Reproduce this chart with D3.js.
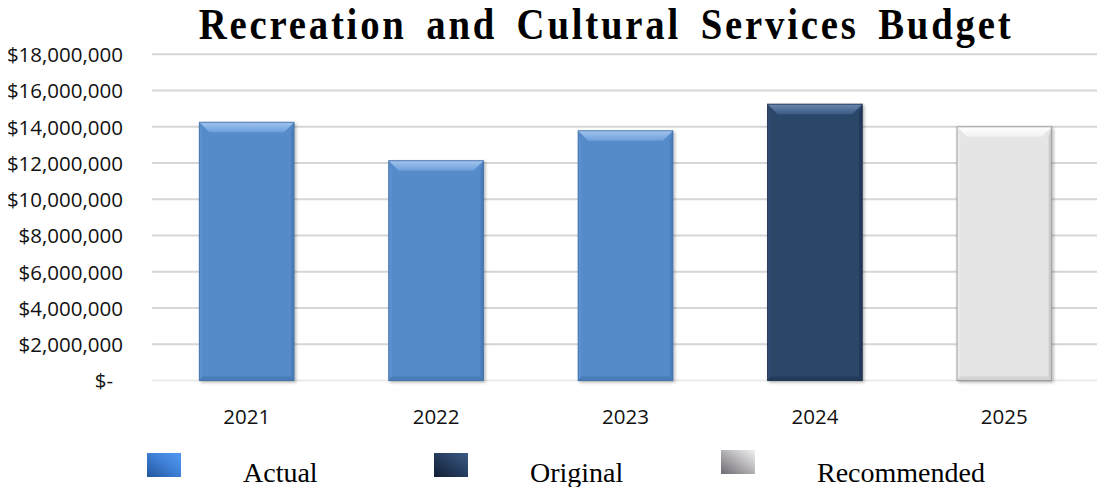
<!DOCTYPE html>
<html>
<head>
<meta charset="utf-8">
<script src="https://cdn.jsdelivr.net/npm/d3@7"></script>
<style>
  html, body { margin: 0; padding: 0; background: #fff; }
  svg { display: block; }
</style>
</head>
<body>
<svg id="chart" width="1097" height="487"></svg>
<script>
// Budget by fiscal year
const years = ["2021", "2022", "2023", "2024", "2025"];
const budgetValues = [14250000, 12130000, 13780000, 15250000, 14000000];
const budgetTypes = ["Actual", "Actual", "Actual", "Original", "Recommended"];
const legendLabels = ["Actual", "Original", "Recommended"];
const yTickValues = [0, 2000000, 4000000, 6000000, 8000000, 10000000, 12000000, 14000000, 16000000, 18000000];

const W = 1097, H = 487;
const plot = { left: 152, right: 1099, top: 54.3, bottom: 380.5 };

const svg = d3.select("#chart");

// colour sets per budget type: body, top bevel (light -> dark), sides, bottom, edge
const palette = {
  Actual:      { body: "#568bca", topA: "#a2c4ee", topB: "#6d9fdb", left: "#5b90cf", right: "#4b7dba", bottom: "#4a7bb7", edge: "#3f6da8" },
  Original:    { body: "#2b4669", topA: "#6a88b2", topB: "#3c5a83", left: "#304c72", right: "#23395a", bottom: "#233a5a", edge: "#1b2e48" },
  Recommended: { body: "#e5e5e5", topA: "#ffffff", topB: "#f2f2f2", left: "#e9e9e9", right: "#c9c9c9", bottom: "#d2d2d2", edge: "#8e8e8e" }
};

const defs = svg.append("defs");
Object.entries(palette).forEach(([k, c]) => {
  const g = defs.append("linearGradient").attr("id", "top-" + k)
    .attr("x1", 0).attr("y1", 0).attr("x2", 0).attr("y2", 1);
  g.append("stop").attr("offset", "0%").attr("stop-color", c.topA);
  g.append("stop").attr("offset", "100%").attr("stop-color", c.topB);
});
const sh = defs.append("filter").attr("id", "shadow")
  .attr("x", "-10%").attr("y", "-10%").attr("width", "130%").attr("height", "130%");
sh.append("feDropShadow").attr("dx", 1.5).attr("dy", 1.5).attr("stdDeviation", 1.5)
  .attr("flood-color", "#000").attr("flood-opacity", 0.3);

// legend swatch gradients
const legendGrad = {
  Actual: ["#24569c", "#3f80d8", "#509af2"],
  Original: ["#121f33", "#283f62", "#3c5a85"],
  Recommended: ["#6f6a72", "#b8b6ba", "#f2f2f2"]
};
Object.entries(legendGrad).forEach(([k, s]) => {
  const g = defs.append("linearGradient").attr("id", "leg-" + k)
    .attr("x1", 0).attr("y1", 1).attr("x2", 1).attr("y2", 0);
  g.append("stop").attr("offset", "0%").attr("stop-color", s[0]);
  g.append("stop").attr("offset", "55%").attr("stop-color", s[1]);
  g.append("stop").attr("offset", "100%").attr("stop-color", s[2]);
});

const x = d3.scaleBand().domain(years).range([plot.left, plot.right])
  .paddingInner(0.5).paddingOuter(0.25);
const y = d3.scaleLinear().domain([0, 18000000]).range([plot.bottom, plot.top]);

// horizontal gridlines
svg.append("g").selectAll("line").data(yTickValues).join("line")
  .attr("x1", plot.left).attr("x2", W)
  .attr("y1", d => y(d)).attr("y2", d => y(d))
  .attr("stroke", d => d === 0 ? "#ebebeb" : "#d6d6d6")
  .attr("stroke-width", 2);

// y axis labels
const fmt = d => d === 0 ? "$-" : "$" + d3.format(",")(d);
const yAxis = d3.axisLeft(y).tickValues(yTickValues).tickFormat(fmt).tickSize(0).tickPadding(0);
const gy = svg.append("g").attr("transform", "translate(123,0)").call(yAxis);
gy.select(".domain").remove();
gy.selectAll("text")
  .attr("font-family", "'Open Sans', sans-serif").attr("font-size", 20.5)
  .attr("fill", "#111").attr("dy", "0.36em")
  .attr("dx", d => d === 0 ? -10 : 0);

// x axis labels
const xAxis = d3.axisBottom(x).tickSize(0).tickPadding(0);
const gx = svg.append("g").attr("transform", "translate(0,409)").call(xAxis);
gx.select(".domain").remove();
gx.selectAll("text")
  .attr("font-family", "'Open Sans', sans-serif").attr("font-size", 20.5)
  .attr("fill", "#111").attr("dy", "0.71em");

// bevelled bars
const data = years.map((yr, i) => ({ year: yr, value: budgetValues[i], type: budgetTypes[i] }));
const bars = svg.append("g").selectAll("g").data(data).join("g").attr("filter", "url(#shadow)");
bars.each(function (d) {
  const g = d3.select(this);
  const c = palette[d.type];
  const x0 = x(d.year), w = x.bandwidth();
  const y0 = y(d.value), y1 = y(0);
  const tb = 10, sb = 10, bb = 4;
  const pts = a => a.map(p => p.join(",")).join(" ");
  g.append("rect").attr("x", x0).attr("y", y0).attr("width", w).attr("height", y1 - y0).attr("fill", c.body);
  g.append("polygon").attr("fill", c.left)
    .attr("points", pts([[x0, y0], [x0 + 3, y0 + tb], [x0 + 3, y1 - bb], [x0, y1]]));
  g.append("polygon").attr("fill", c.right)
    .attr("points", pts([[x0 + w, y0], [x0 + w - 3, y0 + tb], [x0 + w - 3, y1 - bb], [x0 + w, y1]]));
  g.append("polygon").attr("fill", c.bottom)
    .attr("points", pts([[x0, y1], [x0 + 3, y1 - bb], [x0 + w - 3, y1 - bb], [x0 + w, y1]]));
  g.append("polygon").attr("fill", `url(#top-${d.type})`)
    .attr("points", pts([[x0, y0], [x0 + w, y0], [x0 + w - sb, y0 + tb], [x0 + sb, y0 + tb]]));
  g.append("rect").attr("x", x0).attr("y", y0).attr("width", w).attr("height", y1 - y0)
    .attr("fill", "none").attr("stroke", c.edge).attr("stroke-width", 1).attr("stroke-opacity", 0.8);
});

// title (condensed bold serif, spaced out)
svg.append("text")
  .attr("transform", "translate(606,39) scale(0.88,1)")
  .attr("text-anchor", "middle")
  .attr("font-family", "'Liberation Serif', 'Times New Roman', serif")
  .attr("font-weight", "bold").attr("font-size", 44)
  .attr("letter-spacing", 3.2)
  .attr("word-spacing", 8)
  .attr("fill", "#000")
  .text("Recreation and Cultural Services Budget");

// legend
const lx = d3.scalePoint().domain(legendLabels).range([147, 721]);
const lg = svg.append("g").selectAll("g").data(legendLabels).join("g");
lg.append("rect")
  .attr("x", d => lx(d)).attr("y", d => d === "Recommended" ? 450 : 453)
  .attr("width", 34).attr("height", 24)
  .attr("fill", d => `url(#leg-${d})`);
lg.append("text")
  .attr("x", d => lx(d) + 96).attr("y", 482)
  .attr("font-family", "'Liberation Serif', 'Times New Roman', serif")
  .attr("font-size", 28).attr("fill", "#000")
  .text(d => d);
</script>
</body>
</html>
